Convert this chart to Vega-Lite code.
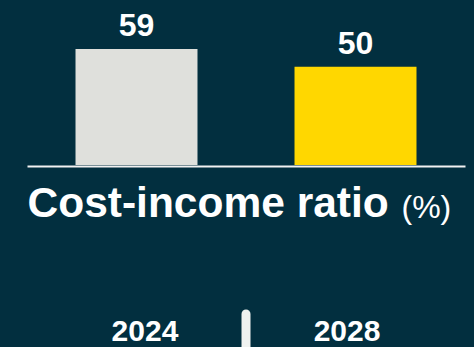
{
  "$schema": "https://vega.github.io/schema/vega-lite/v6.json",
  "width": 438,
  "height": 165,
  "autosize": "none",
  "padding": {"left": 27, "right": 9, "top": 0, "bottom": 182},
  "background": "#022f3f",
  "config": {"view": {"stroke": null}, "font": "Liberation Sans"},
  "data": {"values": [{"year": "2024", "value": 59}, {"year": "2028", "value": 50}]},
  "resolve": {"scale": {"x": "independent"}},
  "layer": [
    {
      "mark": {"type": "bar"},
      "encoding": {
        "x": {
          "field": "year",
          "type": "nominal",
          "scale": {"paddingInner": 0.443, "paddingOuter": 0.2215},
          "axis": {
            "orient": "bottom",
            "labels": false,
            "ticks": false,
            "domain": true,
            "domainColor": "#f2f2f2",
            "domainWidth": 2,
            "offset": 1,
            "title": "(%)",
            "titleX": 374,
            "titleY": 51,
            "titleAlign": "left",
            "titleAnchor": null,
            "titleBaseline": "alphabetic",
            "titleFont": "Liberation Sans",
            "titleFontSize": 32,
            "titleFontWeight": "normal",
            "titleColor": "#ffffff"
          }
        },
        "y": {"field": "value", "type": "quantitative", "scale": {"domain": [0, 84], "nice": false, "zero": true}, "axis": null},
        "color": {
          "field": "year",
          "type": "nominal",
          "scale": {"domain": ["2024", "2028"], "range": ["#dfe0dc", "#ffd700"]},
          "legend": null
        }
      }
    },
    {
      "mark": {"type": "text", "baseline": "alphabetic", "dy": -13, "fontSize": 32, "fontWeight": "bold", "color": "#ffffff"},
      "encoding": {
        "x": {"field": "year", "type": "nominal", "axis": null},
        "y": {"field": "value", "type": "quantitative"},
        "text": {"field": "value", "type": "quantitative"}
      }
    },
    {
      "mark": {"type": "text", "baseline": "alphabetic", "dy": 176, "fontSize": 30, "fontWeight": "bold", "color": "#ffffff"},
      "encoding": {
        "x": {
          "field": "year",
          "type": "nominal",
          "scale": {"type": "point", "padding": 0.584},
          "axis": {
            "orient": "bottom",
            "labels": false,
            "ticks": false,
            "domain": false,
            "offset": 1,
            "title": "Cost-income ratio",
            "titleX": 0,
            "titleY": 50,
            "titleAlign": "left",
            "titleAnchor": null,
            "titleBaseline": "alphabetic",
            "titleFont": "Liberation Sans",
            "titleFontSize": 42.5,
            "titleFontWeight": "bold",
            "titleColor": "#ffffff"
          }
        },
        "y": {"datum": 0, "type": "quantitative"},
        "text": {"field": "year", "type": "nominal"}
      }
    },
    {
      "data": {"values": [{}]},
      "mark": {"type": "rule", "strokeWidth": 9, "strokeCap": "round", "color": "#f0f2f0"},
      "encoding": {
        "x": {"value": {"expr": "width / 2"}},
        "y": {"value": {"expr": "height + 149"}},
        "y2": {"value": {"expr": "height + 200"}}
      }
    }
  ]
}
